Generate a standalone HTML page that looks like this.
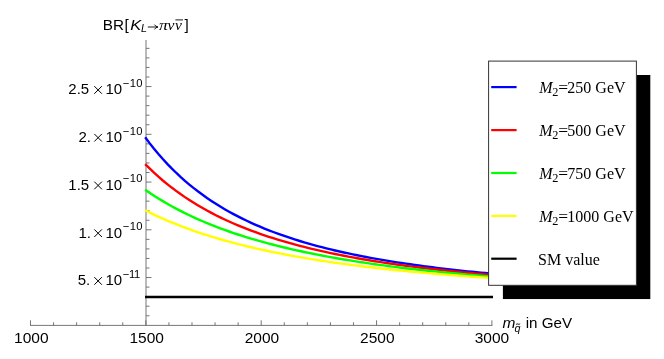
<!DOCTYPE html>
<html><head><meta charset="utf-8"><title>BR plot</title>
<style>
html,body{margin:0;padding:0;background:#fff;}
svg{display:block;font-family:"Liberation Sans",sans-serif;}
text{filter:grayscale(1);}
</style></head>
<body>
<svg width="664" height="359" viewBox="0 0 664 359">
<rect width="664" height="359" fill="#ffffff"/>
<g stroke="#666666" stroke-width="0.9" fill="none">
<line x1="30.0" y1="325.40000000000003" x2="492.40" y2="325.40000000000003"/>
<line x1="146.00" y1="40" x2="146.00" y2="325.3"/>
<line x1="30.50" y1="325.3" x2="30.50" y2="320.3"/>
<line x1="53.57" y1="325.3" x2="53.57" y2="322.3"/>
<line x1="76.64" y1="325.3" x2="76.64" y2="322.3"/>
<line x1="99.71" y1="325.3" x2="99.71" y2="322.3"/>
<line x1="122.78" y1="325.3" x2="122.78" y2="322.3"/>
<line x1="145.85" y1="325.3" x2="145.85" y2="320.3"/>
<line x1="168.92" y1="325.3" x2="168.92" y2="322.3"/>
<line x1="191.99" y1="325.3" x2="191.99" y2="322.3"/>
<line x1="215.06" y1="325.3" x2="215.06" y2="322.3"/>
<line x1="238.13" y1="325.3" x2="238.13" y2="322.3"/>
<line x1="261.20" y1="325.3" x2="261.20" y2="320.3"/>
<line x1="284.27" y1="325.3" x2="284.27" y2="322.3"/>
<line x1="307.34" y1="325.3" x2="307.34" y2="322.3"/>
<line x1="330.41" y1="325.3" x2="330.41" y2="322.3"/>
<line x1="353.48" y1="325.3" x2="353.48" y2="322.3"/>
<line x1="376.55" y1="325.3" x2="376.55" y2="320.3"/>
<line x1="399.62" y1="325.3" x2="399.62" y2="322.3"/>
<line x1="422.69" y1="325.3" x2="422.69" y2="322.3"/>
<line x1="445.76" y1="325.3" x2="445.76" y2="322.3"/>
<line x1="468.83" y1="325.3" x2="468.83" y2="322.3"/>
<line x1="491.90" y1="325.3" x2="491.90" y2="320.3"/>
<line x1="146.00" y1="315.75" x2="149.50" y2="315.75"/>
<line x1="146.00" y1="306.20" x2="149.50" y2="306.20"/>
<line x1="146.00" y1="296.65" x2="149.50" y2="296.65"/>
<line x1="146.00" y1="287.10" x2="149.50" y2="287.10"/>
<line x1="146.00" y1="277.55" x2="151.50" y2="277.55"/>
<line x1="146.00" y1="268.00" x2="149.50" y2="268.00"/>
<line x1="146.00" y1="258.45" x2="149.50" y2="258.45"/>
<line x1="146.00" y1="248.90" x2="149.50" y2="248.90"/>
<line x1="146.00" y1="239.35" x2="149.50" y2="239.35"/>
<line x1="146.00" y1="229.80" x2="151.50" y2="229.80"/>
<line x1="146.00" y1="220.25" x2="149.50" y2="220.25"/>
<line x1="146.00" y1="210.70" x2="149.50" y2="210.70"/>
<line x1="146.00" y1="201.15" x2="149.50" y2="201.15"/>
<line x1="146.00" y1="191.60" x2="149.50" y2="191.60"/>
<line x1="146.00" y1="182.05" x2="151.50" y2="182.05"/>
<line x1="146.00" y1="172.50" x2="149.50" y2="172.50"/>
<line x1="146.00" y1="162.95" x2="149.50" y2="162.95"/>
<line x1="146.00" y1="153.40" x2="149.50" y2="153.40"/>
<line x1="146.00" y1="143.85" x2="149.50" y2="143.85"/>
<line x1="146.00" y1="134.30" x2="151.50" y2="134.30"/>
<line x1="146.00" y1="124.75" x2="149.50" y2="124.75"/>
<line x1="146.00" y1="115.20" x2="149.50" y2="115.20"/>
<line x1="146.00" y1="105.65" x2="149.50" y2="105.65"/>
<line x1="146.00" y1="96.10" x2="149.50" y2="96.10"/>
<line x1="146.00" y1="86.55" x2="151.50" y2="86.55"/>
<line x1="146.00" y1="77.00" x2="149.50" y2="77.00"/>
<line x1="146.00" y1="67.45" x2="149.50" y2="67.45"/>
<line x1="146.00" y1="57.90" x2="149.50" y2="57.90"/>
<line x1="146.00" y1="48.35" x2="149.50" y2="48.35"/>
</g>
<g font-size="15" fill="#000">
<text x="31.30" y="343.1" font-size="15.5" text-anchor="middle">1000</text><text x="146.65" y="343.1" font-size="15.5" text-anchor="middle">1500</text><text x="262.00" y="343.1" font-size="15.5" text-anchor="middle">2000</text><text x="377.35" y="343.1" font-size="15.5" text-anchor="middle">2500</text><text x="492.00" y="343.1" font-size="15.5" text-anchor="middle">3000</text>
<text x="89.2" y="94.25" text-anchor="end">2.5</text>
<path d="M94.3,86.15 L101.9,93.75 M101.9,86.15 L94.3,93.75" stroke="#000" stroke-width="1" fill="none"/>
<text x="105.4" y="94.25">10</text>
<text x="122.8" y="86.75" font-size="11.2" letter-spacing="0.4">−10</text>
<text x="90.9" y="142.00" text-anchor="end">2.</text>
<path d="M94.3,133.90 L101.9,141.50 M101.9,133.90 L94.3,141.50" stroke="#000" stroke-width="1" fill="none"/>
<text x="105.4" y="142.00">10</text>
<text x="122.8" y="134.50" font-size="11.2" letter-spacing="0.4">−10</text>
<text x="89.2" y="189.75" text-anchor="end">1.5</text>
<path d="M94.3,181.65 L101.9,189.25 M101.9,181.65 L94.3,189.25" stroke="#000" stroke-width="1" fill="none"/>
<text x="105.4" y="189.75">10</text>
<text x="122.8" y="182.25" font-size="11.2" letter-spacing="0.4">−10</text>
<text x="90.9" y="237.50" text-anchor="end">1.</text>
<path d="M94.3,229.40 L101.9,237.00 M101.9,229.40 L94.3,237.00" stroke="#000" stroke-width="1" fill="none"/>
<text x="105.4" y="237.50">10</text>
<text x="122.8" y="230.00" font-size="11.2" letter-spacing="0.4">−10</text>
<text x="90.3" y="285.25" text-anchor="end">5.</text>
<path d="M94.3,277.15 L101.9,284.75 M101.9,277.15 L94.3,284.75" stroke="#000" stroke-width="1" fill="none"/>
<text x="105.4" y="285.25">10</text>
<text x="122.8" y="277.75" font-size="11.2" letter-spacing="-0.35">−11</text>
</g>
<line x1="145.0" y1="296.95" x2="493" y2="296.95" stroke="#000" stroke-width="2.4"/>
<path d="M145.16,137.22 L149.58,143.13 L153.99,148.72 L158.41,154.03 L162.83,159.07 L167.25,163.86 L171.67,168.41 L176.09,172.75 L180.50,176.88 L184.92,180.81 L189.34,184.56 L193.76,188.14 L198.18,191.56 L202.60,194.82 L207.01,197.95 L211.43,200.93 L215.85,203.79 L220.27,206.53 L224.69,209.16 L229.11,211.67 L233.52,214.09 L237.94,216.40 L242.36,218.63 L246.78,220.77 L251.20,222.82 L255.62,224.80 L260.03,226.70 L264.45,228.54 L268.87,230.30 L273.29,232.00 L277.71,233.64 L282.13,235.22 L286.54,236.74 L290.96,238.21 L295.38,239.63 L299.80,241.01 L304.22,242.33 L308.64,243.62 L313.05,244.86 L317.47,246.05 L321.89,247.21 L326.31,248.34 L330.73,249.43 L335.15,250.48 L339.56,251.50 L343.98,252.49 L348.40,253.45 L352.82,254.38 L357.24,255.29 L361.66,256.16 L366.08,257.01 L370.49,257.84 L374.91,258.64 L379.33,259.42 L383.75,260.18 L388.17,260.92 L392.59,261.64 L397.00,262.33 L401.42,263.01 L405.84,263.67 L410.26,264.31 L414.68,264.94 L419.10,265.55 L423.51,266.14 L427.93,266.72 L432.35,267.28 L436.77,267.83 L441.19,268.37 L445.61,268.89 L450.02,269.40 L454.44,269.90 L458.86,270.38 L463.28,270.86 L467.70,271.32 L472.12,271.77 L476.53,272.21 L480.95,272.64 L485.37,273.06 L489.79,273.47 L494.21,273.88" fill="none" stroke="#0000ff" stroke-width="2.4"/>
<path d="M145.16,164.06 L149.58,168.46 L153.99,172.65 L158.41,176.65 L162.83,180.46 L167.25,184.10 L171.67,187.58 L176.09,190.90 L180.50,194.08 L184.92,197.12 L189.34,200.04 L193.76,202.83 L198.18,205.51 L202.60,208.08 L207.01,210.55 L211.43,212.92 L215.85,215.20 L220.27,217.39 L224.69,219.49 L229.11,221.52 L233.52,223.48 L237.94,225.36 L242.36,227.17 L246.78,228.92 L251.20,230.61 L255.62,232.24 L260.03,233.81 L264.45,235.33 L268.87,236.80 L273.29,238.22 L277.71,239.60 L282.13,240.92 L286.54,242.21 L290.96,243.46 L295.38,244.66 L299.80,245.83 L304.22,246.96 L308.64,248.06 L313.05,249.13 L317.47,250.16 L321.89,251.17 L326.31,252.14 L330.73,253.08 L335.15,254.00 L339.56,254.90 L343.98,255.76 L348.40,256.61 L352.82,257.43 L357.24,258.23 L361.66,259.00 L366.08,259.76 L370.49,260.49 L374.91,261.21 L379.33,261.91 L383.75,262.59 L388.17,263.25 L392.59,263.90 L397.00,264.52 L401.42,265.14 L405.84,265.74 L410.26,266.32 L414.68,266.89 L419.10,267.45 L423.51,267.99 L427.93,268.52 L432.35,269.04 L436.77,269.54 L441.19,270.04 L445.61,270.52 L450.02,270.99 L454.44,271.45 L458.86,271.90 L463.28,272.34 L467.70,272.77 L472.12,273.20 L476.53,273.61 L480.95,274.01 L485.37,274.41 L489.79,274.79 L494.21,275.17" fill="none" stroke="#ff0000" stroke-width="2.4"/>
<path d="M145.16,189.73 L149.58,192.76 L153.99,195.66 L158.41,198.46 L162.83,201.14 L167.25,203.72 L171.67,206.20 L176.09,208.59 L180.50,210.90 L184.92,213.12 L189.34,215.26 L193.76,217.32 L198.18,219.31 L202.60,221.24 L207.01,223.10 L211.43,224.89 L215.85,226.63 L220.27,228.30 L224.69,229.93 L229.11,231.50 L233.52,233.02 L237.94,234.49 L242.36,235.92 L246.78,237.30 L251.20,238.64 L255.62,239.94 L260.03,241.21 L264.45,242.43 L268.87,243.62 L273.29,244.77 L277.71,245.89 L282.13,246.98 L286.54,248.04 L290.96,249.07 L295.38,250.07 L299.80,251.04 L304.22,251.99 L308.64,252.91 L313.05,253.80 L317.47,254.68 L321.89,255.53 L326.31,256.36 L330.73,257.16 L335.15,257.95 L339.56,258.72 L343.98,259.46 L348.40,260.19 L352.82,260.90 L357.24,261.60 L361.66,262.27 L366.08,262.93 L370.49,263.58 L374.91,264.21 L379.33,264.82 L383.75,265.42 L388.17,266.01 L392.59,266.58 L397.00,267.14 L401.42,267.69 L405.84,268.22 L410.26,268.75 L414.68,269.26 L419.10,269.76 L423.51,270.25 L427.93,270.73 L432.35,271.20 L436.77,271.66 L441.19,272.11 L445.61,272.55 L450.02,272.98 L454.44,273.40 L458.86,273.81 L463.28,274.22 L467.70,274.61 L472.12,275.00 L476.53,275.38 L480.95,275.76 L485.37,276.12 L489.79,276.48 L494.21,276.84" fill="none" stroke="#00ff00" stroke-width="2.4"/>
<path d="M145.16,210.21 L149.58,212.43 L153.99,214.57 L158.41,216.63 L162.83,218.62 L167.25,220.54 L171.67,222.40 L176.09,224.19 L180.50,225.93 L184.92,227.61 L189.34,229.23 L193.76,230.80 L198.18,232.32 L202.60,233.79 L207.01,235.21 L211.43,236.59 L215.85,237.93 L220.27,239.23 L224.69,240.49 L229.11,241.71 L233.52,242.89 L237.94,244.04 L242.36,245.16 L246.78,246.24 L251.20,247.29 L255.62,248.32 L260.03,249.31 L264.45,250.28 L268.87,251.22 L273.29,252.14 L277.71,253.03 L282.13,253.89 L286.54,254.74 L290.96,255.56 L295.38,256.36 L299.80,257.14 L304.22,257.90 L308.64,258.64 L313.05,259.36 L317.47,260.06 L321.89,260.75 L326.31,261.41 L330.73,262.07 L335.15,262.70 L339.56,263.33 L343.98,263.93 L348.40,264.52 L352.82,265.10 L357.24,265.67 L361.66,266.22 L366.08,266.76 L370.49,267.28 L374.91,267.80 L379.33,268.30 L383.75,268.79 L388.17,269.28 L392.59,269.75 L397.00,270.21 L401.42,270.66 L405.84,271.10 L410.26,271.53 L414.68,271.95 L419.10,272.36 L423.51,272.77 L427.93,273.17 L432.35,273.55 L436.77,273.93 L441.19,274.31 L445.61,274.67 L450.02,275.03 L454.44,275.38 L458.86,275.72 L463.28,276.06 L467.70,276.39 L472.12,276.71 L476.53,277.03 L480.95,277.34 L485.37,277.65 L489.79,277.95 L494.21,278.24" fill="none" stroke="#ffff00" stroke-width="2.4"/>
<rect x="502.9" y="75" width="147.4" height="224.05" fill="#000"/>
<rect x="488.6" y="61.1" width="147.8" height="224.2" fill="#fff" stroke="#333" stroke-width="1"/>
<line x1="491.2" y1="87.1" x2="516.6" y2="87.1" stroke="#0000ff" stroke-width="2.2"/>
<text x="539.3" y="93.1" font-family="'Liberation Serif',serif" font-size="16"><tspan font-style="italic">M</tspan><tspan font-size="12.3" dy="3.1" dx="-0.5">2</tspan><tspan dy="-3.1" dx="-0.1" font-size="17.5">=</tspan><tspan dx="-0.7">250</tspan><tspan dx="0"> GeV</tspan></text>
<line x1="491.2" y1="130.1" x2="516.6" y2="130.1" stroke="#ff0000" stroke-width="2.2"/>
<text x="539.3" y="136.1" font-family="'Liberation Serif',serif" font-size="16"><tspan font-style="italic">M</tspan><tspan font-size="12.3" dy="3.1" dx="-0.5">2</tspan><tspan dy="-3.1" dx="-0.1" font-size="17.5">=</tspan><tspan dx="-0.7">500</tspan><tspan dx="0"> GeV</tspan></text>
<line x1="491.2" y1="173.0" x2="516.6" y2="173.0" stroke="#00ff00" stroke-width="2.2"/>
<text x="539.3" y="179.0" font-family="'Liberation Serif',serif" font-size="16"><tspan font-style="italic">M</tspan><tspan font-size="12.3" dy="3.1" dx="-0.5">2</tspan><tspan dy="-3.1" dx="-0.1" font-size="17.5">=</tspan><tspan dx="-0.7">750</tspan><tspan dx="0"> GeV</tspan></text>
<line x1="491.2" y1="215.9" x2="516.6" y2="215.9" stroke="#ffff00" stroke-width="2.2"/>
<text x="539.3" y="221.9" font-family="'Liberation Serif',serif" font-size="16"><tspan font-style="italic">M</tspan><tspan font-size="12.3" dy="3.1" dx="-0.5">2</tspan><tspan dy="-3.1" dx="-0.1" font-size="17.5">=</tspan><tspan dx="-0.7">1000</tspan><tspan dx="0"> GeV</tspan></text>
<line x1="491.2" y1="258.7" x2="516.6" y2="258.7" stroke="#000000" stroke-width="2.2"/>
<text x="538.1" y="264.6" font-family="'Liberation Serif',serif" font-size="16">SM value</text>
<g font-size="15.3" fill="#000">
<text x="102.7" y="29.7">BR</text>
<text x="124.6" y="29.7">[</text>
<text transform="translate(130.2,29.7) scale(1.08,1)" font-style="italic" font-size="15.3">K</text>
<text x="141.0" y="32.4" font-style="italic" font-size="10.7">L</text>
<path d="M147.8,27 L157.6,27 M154.4,24.6 Q155.6,26.5 158.0,27 Q155.6,27.5 154.4,29.4" stroke="#000" stroke-width="0.9" fill="none"/>
<text transform="translate(158.9,29.7) scale(1.15,1)" font-family="'Liberation Serif',serif" font-style="italic" font-size="15.5">π</text>
<text x="167.6" y="29.7" font-family="'Liberation Serif',serif" font-style="italic" font-size="15.5">ν</text>
<text x="175" y="29.7" font-family="'Liberation Serif',serif" font-style="italic" font-size="15.5">ν</text>
<line x1="175.4" y1="19.9" x2="183.0" y2="19.9" stroke="#000" stroke-width="0.9"/>
<text x="184.4" y="29.7">]</text>
<text x="502.5" y="327.5" font-style="italic" font-size="15.5">m</text>
<text x="514.6" y="331.5" font-style="italic" font-size="10.7">q</text>
<path d="M516.0,324.6 Q517.0,323.3 518.1,324.1 Q519.2,324.9 520.2,323.6" stroke="#000" stroke-width="0.9" fill="none"/>
<text x="525.7" y="327.5" font-size="15.2">in GeV</text>
</g>
</svg>
</body></html>
